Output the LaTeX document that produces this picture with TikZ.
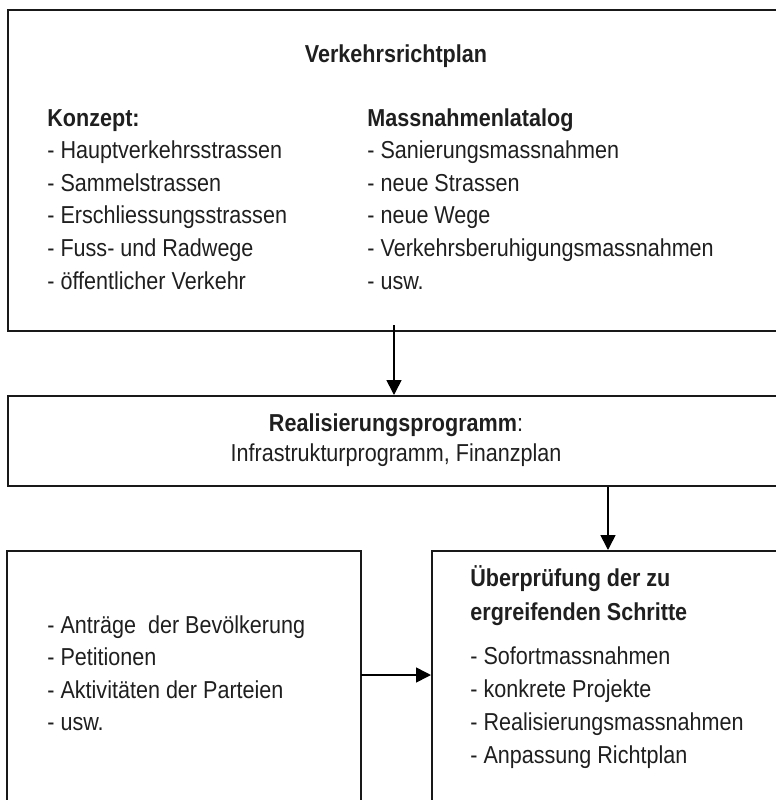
\documentclass[tikz,border=0pt]{standalone}
\usepackage{fontspec}
\setmainfont{Liberation Sans}[FakeStretch=0.88]
\usetikzlibrary{arrows.meta, positioning}

\begin{document}
\begin{tikzpicture}[x=0.5pt, y=-0.5pt,
            font=\fontsize{12.25}{16}\selectfont,
            kasten/.style={draw=black!90, line width=1pt, rectangle, inner sep=0pt},
            zeile/.style={anchor=base west, inner sep=0pt, text=black!88},
            titel/.style={anchor=base, inner sep=0pt, text=black!88, font=\fontsize{12.25}{16}\selectfont\bfseries},
            pfeil/.style={draw=black, line width=0.8pt, -{Triangle[length=7.5pt, width=7.5pt]}}]
            \path[use as bounding box, clip] (0,0) rectangle (776,800);
            % boxes
            \node[kasten, minimum width=388pt, minimum height=160.5pt] (plan) at (396,170.5) {};
            \node[kasten, minimum width=388pt, minimum height=45pt]    (prog) at (396,441)   {};
            \node[kasten, minimum width=177pt, minimum height=140pt]   (antr) at (184,691)   {};
            \node[kasten, minimum width=176pt, minimum height=140pt]   (pruef) at (608,691)  {};
            % Verkehrsrichtplan
            \node[titel] (plantitel) at (396,62) {Verkehrsrichtplan};
            \node[zeile, font=\fontsize{12.25}{16}\selectfont\bfseries] (konz) at (47,126) {Konzept:};
            \node[zeile, font=\fontsize{12.25}{16}\selectfont\bfseries] (mass) at (367,126) {Massnahmenlatalog};
            \foreach \t [count=\i] in {Hauptverkehrsstrassen, Sammelstrassen, Erschliessungsstrassen,
                    Fuss- und Radwege, öffentlicher Verkehr}
                \node[zeile] (konz\i) at (47,{126+32.6*\i}) {- \t};
            \foreach \t [count=\i] in {Sanierungsmassnahmen, neue Strassen, neue Wege,
                    Verkehrsberuhigungsmassnahmen, usw.}
                \node[zeile] (mass\i) at (367,{126+32.6*\i}) {- \t};
            % Realisierungsprogramm
            \node[titel] (progtitel) at (396,431.5) {Realisierungsprogramm\mdseries:};
            \node[zeile, anchor=base] (progtext) at (396,461.5) {Infrastrukturprogramm, Finanzplan};
            % Antraege
            \foreach \t [count=\i] in {Anträge\ \ der Bevölkerung, Petitionen,
                    Aktivitäten der Parteien, usw.}
                \node[zeile] (antr\i) at (47,{600.5+32.5*\i}) {- \t};
            % Ueberpruefung
            \node[zeile, font=\fontsize{12.25}{16}\selectfont\bfseries] (pruefa) at (470,586) {Überprüfung der zu};
            \node[zeile, font=\fontsize{12.25}{16}\selectfont\bfseries] (pruefb) at (470,620.5) {ergreifenden Schritte};
            \foreach \t [count=\i] in {Sofortmassnahmen, konkrete Projekte,
                    Realisierungsmassnahmen, Anpassung Richtplan}
                \node[zeile] (pruef\i) at (470,{632+32.8*\i}) {- \t};
            % connectors
            \coordinate (k1) at (394,325);
            \coordinate (k3) at (361,675);
            \draw[pfeil] (k1) -- (k1 |- prog.north);
            \draw[pfeil] (prog.south -| pruef.north) -- (pruef.north);
            \draw[pfeil] (k3) -- (k3 -| pruef.west);
        \end{tikzpicture}
\end{document}
